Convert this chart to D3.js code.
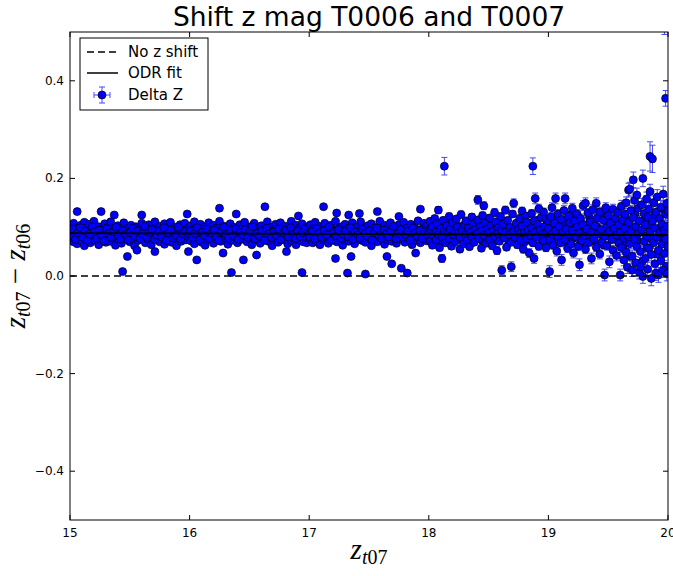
<!DOCTYPE html>
<html>
<head>
<meta charset="utf-8">
<script src="https://cdn.jsdelivr.net/npm/d3@7"></script>
<style>
  body { margin: 0; background: #fff; }
  svg { display: block; }
</style>
</head>
<body>
<div id="chart"></div>
<script>
// Delta Z points, [z_t07, z_t07 - z_t06] (errors hidden under the markers)
const bin15 = [[15.00,.089],[15.01,.078],[15.01,.101],[15.02,.093],[15.03,.070],[15.03,.108],[15.04,.085],[15.05,.097],[15.06,.066],[15.06,.132],[15.07,.090],[15.08,.079],[15.09,.104],[15.09,.072],[15.10,.094],[15.11,.083],[15.12,.110],[15.12,.062],[15.13,.088],[15.14,.099],[15.15,.075],[15.16,.091],[15.16,.106],[15.17,.068],[15.18,.084],[15.19,.096],[15.20,.080],[15.20,.112],[15.21,.073],[15.22,.092],[15.23,.087],[15.24,.101],[15.24,.064],[15.25,.082],[15.26,.132],[15.26,.095],[15.27,.076],[15.28,.090],[15.29,.107],[15.30,.069],[15.30,.086],[15.31,.099],[15.32,.078],[15.33,.093],[15.34,.111],[15.34,.071],[15.35,.085],[15.36,.097],[15.37,.125],[15.37,.081],[15.38,.063],[15.39,.092],[15.40,.103],[15.41,.074],[15.41,.088],[15.42,.095],[15.43,.067],[15.44,.009],[15.44,.083],[15.45,.109],[15.46,.091],[15.47,.077],[15.48,.040],[15.48,.098],[15.49,.086],[15.50,.070],[15.51,.104],[15.52,.089],[15.52,.079],[15.53,.094],[15.54,.062],[15.55,.101],[15.56,.053],[15.56,.084],[15.57,.073],[15.58,.096],[15.59,.087],[15.60,.125],[15.60,.108],[15.61,.080],[15.62,.093],[15.63,.068],[15.63,.099],[15.64,.086],[15.65,.075],[15.66,.105],[15.67,.090],[15.68,.081],[15.68,.064],[15.69,.097],[15.70,.088],[15.71,.050],[15.71,.111],[15.72,.076],[15.73,.092],[15.74,.083],[15.75,.102],[15.75,.070],[15.76,.089],[15.77,.095],[15.78,.078],[15.79,.107],[15.79,.065],[15.80,.086],[15.81,.098],[15.82,.073],[15.83,.091],[15.83,.084],[15.84,.110],[15.85,.069],[15.86,.094],[15.87,.080],[15.88,.100],[15.88,.087],[15.89,.062],[15.90,.093],[15.91,.077],[15.92,.105],[15.92,.089],[15.93,.071],[15.94,.096],[15.95,.082],[15.96,.108],[15.97,.074],[15.98,.127],[15.98,.090],[15.99,.050],[15.99,.099]];
const core15 = [[15.005,.084],[15.025,.096],[15.045,.075],[15.065,.088],[15.085,.099],[15.105,.080],[15.125,.092],[15.145,.073],[15.165,.086],[15.185,.101],[15.205,.090],[15.225,.077],[15.245,.094],[15.265,.083],[15.285,.072],[15.305,.097],[15.325,.087],[15.345,.079],[15.365,.091],[15.385,.100],[15.405,.082],[15.425,.076],[15.445,.093],[15.465,.085],[15.485,.074],[15.505,.089],[15.525,.098],[15.545,.081],[15.565,.092],[15.585,.077],[15.605,.086],[15.625,.102],[15.645,.079],[15.665,.090],[15.685,.095],[15.705,.075],[15.725,.084],[15.745,.092],[15.765,.080],[15.785,.099],[15.805,.073],[15.825,.088],[15.845,.094],[15.865,.078],[15.885,.083],[15.905,.100],[15.925,.076],[15.945,.087],[15.965,.091],[15.985,.081]];

const bin16 = [[16.00,.085],[16.01,.072],[16.01,.103],[16.02,.094],[16.03,.080],[16.04,.111],[16.04,.066],[16.05,.089],[16.06,.033],[16.06,.098],[16.07,.077],[16.08,.092],[16.09,.084],[16.09,.106],[16.10,.069],[16.11,.095],[16.12,.081],[16.13,.101],[16.13,.063],[16.14,.088],[16.15,.074],[16.16,.109],[16.16,.093],[16.17,.079],[16.18,.097],[16.19,.086],[16.20,.067],[16.20,.104],[16.21,.090],[16.22,.076],[16.23,.099],[16.24,.083],[16.25,.139],[16.25,.112],[16.26,.071],[16.27,.094],[16.28,.047],[16.28,.087],[16.29,.102],[16.30,.078],[16.31,.091],[16.32,.065],[16.32,.096],[16.33,.084],[16.34,.107],[16.35,.007],[16.35,.073],[16.36,.089],[16.37,.100],[16.38,.080],[16.39,.127],[16.39,.093],[16.40,.068],[16.41,.086],[16.42,.105],[16.43,.075],[16.44,.097],[16.45,.033],[16.45,.088],[16.46,.110],[16.47,.082],[16.48,.070],[16.49,.095],[16.50,.087],[16.51,.101],[16.52,.064],[16.52,.079],[16.53,.092],[16.54,.108],[16.55,.085],[16.56,.043],[16.56,.074],[16.57,.098],[16.58,.090],[16.59,.067],[16.60,.103],[16.61,.081],[16.62,.094],[16.63,.142],[16.63,.076],[16.64,.088],[16.65,.111],[16.66,.071],[16.67,.096],[16.68,.084],[16.68,.100],[16.69,.062],[16.70,.091],[16.71,.078],[16.72,.106],[16.73,.087],[16.74,.069],[16.75,.097],[16.76,.083],[16.76,.109],[16.77,.074],[16.78,.093],[16.79,.080],[16.80,.102],[16.81,.050],[16.81,.089],[16.82,.066],[16.83,.095],[16.84,.085],[16.85,.112],[16.85,.072],[16.86,.098],[16.87,.079],[16.88,.091],[16.89,.104],[16.89,.064],[16.90,.086],[16.91,.123],[16.91,.075],[16.92,.099],[16.93,.088],[16.94,.007],[16.94,.107],[16.95,.070],[16.96,.092],[16.97,.082],[16.98,.101],[16.98,.068],[16.99,.094]];
const core16 = [[16.005,.092],[16.025,.079],[16.045,.087],[16.065,.099],[16.085,.074],[16.105,.090],[16.125,.083],[16.145,.096],[16.165,.077],[16.185,.088],[16.205,.094],[16.225,.081],[16.245,.073],[16.265,.091],[16.285,.100],[16.305,.085],[16.325,.078],[16.345,.093],[16.365,.082],[16.385,.097],[16.405,.075],[16.425,.089],[16.445,.084],[16.465,.095],[16.485,.079],[16.505,.091],[16.525,.101],[16.545,.076],[16.565,.087],[16.585,.082],[16.605,.093],[16.625,.073],[16.645,.098],[16.665,.086],[16.685,.079],[16.705,.090],[16.725,.083],[16.745,.096],[16.765,.075],[16.785,.088],[16.805,.094],[16.825,.080],[16.845,.099],[16.865,.085],[16.885,.077],[16.905,.092],[16.925,.081],[16.945,.089],[16.965,.097],[16.985,.078]];

const bin17 = [[17.00,.087],[17.01,.076],[17.01,.105],[17.02,.093],[17.03,.068],[17.04,.099],[17.04,.083],[17.05,.110],[17.06,.072],[17.07,.090],[17.08,.081],[17.08,.102],[17.09,.064],[17.10,.095],[17.11,.086],[17.12,.142],[17.12,.074],[17.13,.108],[17.14,.091],[17.15,.079],[17.16,.097],[17.16,.067],[17.17,.088],[17.18,.104],[17.19,.077],[17.20,.093],[17.21,.084],[17.22,.036],[17.22,.112],[17.23,.129],[17.23,.070],[17.24,.096],[17.25,.089],[17.26,.080],[17.27,.101],[17.28,.063],[17.28,.092],[17.29,.075],[17.30,.106],[17.31,.086],[17.32,.006],[17.32,.098],[17.33,.125],[17.33,.071],[17.34,.090],[17.35,.040],[17.35,.082],[17.36,.109],[17.37,.094],[17.38,.066],[17.39,.087],[17.40,.100],[17.41,.078],[17.42,.128],[17.42,.092],[17.43,.111],[17.44,.073],[17.45,.085],[17.46,.097],[17.47,.004],[17.47,.069],[17.48,.089],[17.49,.103],[17.50,.080],[17.51,.094],[17.52,.062],[17.52,.107],[17.53,.086],[17.54,.076],[17.55,.099],[17.56,.091],[17.57,.132],[17.57,.070],[17.58,.084],[17.59,.112],[17.60,.095],[17.61,.079],[17.62,.088],[17.63,.065],[17.63,.104],[17.64,.093],[17.65,.040],[17.65,.074],[17.66,.100],[17.67,.085],[17.68,.109],[17.69,.025],[17.69,.071],[17.70,.092],[17.71,.081],[17.72,.097],[17.73,.067],[17.74,.088],[17.75,.122],[17.75,.105],[17.76,.077],[17.77,.016],[17.77,.094],[17.78,.084],[17.79,.110],[17.80,.069],[17.81,.091],[17.82,.006],[17.82,.099],[17.83,.078],[17.84,.087],[17.85,.106],[17.86,.064],[17.86,.093],[17.87,.082],[17.88,.101],[17.89,.047],[17.89,.073],[17.90,.090],[17.91,.113],[17.92,.085],[17.93,.137],[17.93,.068],[17.94,.096],[17.95,.080],[17.96,.108],[17.97,.089],[17.98,.072],[17.98,.102],[17.99,.094]];
const core17 = [[17.005,.080],[17.025,.091],[17.045,.076],[17.065,.097],[17.085,.088],[17.105,.079],[17.125,.093],[17.145,.084],[17.165,.100],[17.185,.073],[17.205,.089],[17.225,.082],[17.245,.095],[17.265,.077],[17.285,.086],[17.305,.092],[17.325,.080],[17.345,.099],[17.365,.075],[17.385,.090],[17.405,.084],[17.425,.078],[17.445,.096],[17.465,.087],[17.485,.081],[17.505,.093],[17.525,.074],[17.545,.089],[17.565,.098],[17.585,.083],[17.605,.077],[17.625,.094],[17.645,.086],[17.665,.080],[17.685,.091],[17.705,.102],[17.725,.076],[17.745,.087],[17.765,.095],[17.785,.079],[17.805,.085],[17.825,.092],[17.845,.074],[17.865,.098],[17.885,.088],[17.905,.081],[17.925,.094],[17.945,.077],[17.965,.090],[17.985,.084]];
const core18 = [[18.005,.091],[18.025,.077],[18.045,.099],[18.065,.084],[18.085,.106],[18.105,.070],[18.125,.088],[18.145,.097],[18.165,.080],[18.185,.110],[18.205,.075],[18.225,.093],[18.245,.086],[18.265,.102],[18.285,.072],[18.305,.090],[18.325,.081],[18.345,.107],[18.365,.095],[18.385,.078],[18.405,.099],[18.425,.087],[18.445,.073],[18.465,.094],[18.485,.104],[18.505,.082],[18.525,.090],[18.545,.071],[18.565,.097],[18.585,.111],[18.605,.079],[18.625,.088],[18.645,.101],[18.665,.074],[18.685,.093],[18.705,.083],[18.725,.098],[18.745,.108],[18.765,.077],[18.785,.091],[18.805,.070],[18.825,.087],[18.845,.103],[18.865,.080],[18.885,.095],[18.905,.114],[18.925,.084],[18.945,.076],[18.965,.092],[18.985,.105]];
const core19 = [[19.005,.112],[19.025,.093],[19.045,.078],[19.065,.121],[19.085,.099],[19.105,.084],[19.125,.070],[19.145,.106],[19.165,.091],[19.185,.126],[19.205,.077],[19.225,.098],[19.245,.113],[19.265,.065],[19.285,.089],[19.305,.104],[19.325,.081],[19.345,.119],[19.365,.094],[19.385,.072],[19.405,.101],[19.425,.087],[19.445,.125],[19.465,.063],[19.485,.092],[19.505,.108],[19.525,.079],[19.545,.116],[19.565,.097],[19.585,.071],[19.605,.104],[19.625,.063],[19.645,.117],[19.665,.085],[19.685,.040],[19.705,.099],[19.725,.128],[19.745,.073],[19.765,.093],[19.785,.030],[19.805,.114],[19.825,.058],[19.845,.102],[19.865,.076],[19.885,.123],[19.905,.045],[19.925,.097],[19.945,.081],[19.965,.137],[19.985,.020]];

// fainter end: [z_t07, delta z, error]
const bin18 = [[18.00,.086,.005],[18.01,.071,.005],[18.01,.112,.006],[18.02,.095,.005],[18.03,.063,.006],[18.03,.101,.005],[18.04,.082,.005],[18.05,.118,.006],[18.06,.090,.005],[18.06,.074,.005],[18.07,.107,.006],[18.08,.135,.007],[18.08,.085,.005],[18.09,.058,.006],[18.10,.097,.005],[18.11,.036,.008],[18.11,.079,.005],[18.12,.114,.006],[18.13,.225,.018],[18.13,.092,.005],[18.14,.068,.006],[18.15,.103,.005],[18.16,.087,.005],[18.17,.122,.007],[18.17,.075,.005],[18.18,.096,.005],[18.19,.061,.006],[18.20,.109,.006],[18.21,.083,.005],[18.22,.092,.005],[18.22,.070,.006],[18.23,.117,.006],[18.24,.100,.005],[18.25,.088,.005],[18.26,.055,.007],[18.26,.079,.005],[18.27,.126,.007],[18.28,.094,.005],[18.29,.066,.006],[18.30,.105,.006],[18.31,.085,.005],[18.31,.113,.006],[18.32,.073,.005],[18.33,.098,.005],[18.34,.060,.006],[18.35,.090,.005],[18.36,.121,.007],[18.36,.081,.005],[18.37,.107,.006],[18.38,.069,.006],[18.39,.095,.005],[18.40,.086,.005],[18.41,.156,.009],[18.41,.115,.006],[18.42,.077,.005],[18.43,.101,.006],[18.44,.057,.007],[18.44,.092,.005],[18.45,.124,.007],[18.46,.144,.008],[18.46,.083,.005],[18.47,.109,.006],[18.48,.067,.006],[18.49,.097,.005],[18.50,.088,.005],[18.51,.119,.007],[18.51,.074,.006],[18.52,.103,.006],[18.53,.062,.007],[18.54,.093,.005],[18.55,.130,.008],[18.55,.081,.005],[18.56,.111,.006],[18.57,.052,.008],[18.58,.099,.006],[18.58,.087,.005],[18.59,.071,.006],[18.60,.122,.007],[18.61,.012,.009],[18.61,.094,.005],[18.62,.106,.006],[18.63,.078,.006],[18.64,.135,.008],[18.64,.090,.005],[18.65,.059,.007],[18.66,.114,.006],[18.67,.084,.005],[18.68,.100,.006],[18.69,.019,.010],[18.69,.069,.006],[18.70,.127,.007],[18.71,.149,.009],[18.71,.092,.005],[18.72,.079,.006],[18.73,.108,.006],[18.74,.064,.007],[18.75,.096,.005],[18.76,.118,.007],[18.76,.086,.005],[18.77,.073,.006],[18.78,.133,.008],[18.78,.102,.006],[18.79,.055,.008],[18.80,.089,.005],[18.81,.123,.007],[18.82,.076,.006],[18.82,.110,.006],[18.83,.094,.005],[18.84,.047,.009],[18.85,.083,.006],[18.86,.128,.008],[18.86,.099,.006],[18.87,.225,.017],[18.87,.068,.007],[18.88,.036,.010],[18.88,.113,.007],[18.89,.159,.011],[18.89,.090,.006],[18.90,.079,.006],[18.91,.106,.006],[18.92,.138,.009],[18.92,.061,.008],[18.93,.095,.006],[18.94,.120,.007],[18.95,.085,.006],[18.96,.072,.007],[18.96,.131,.008],[18.97,.101,.006],[18.98,.058,.008],[18.98,.116,.007],[18.99,.088,.006]];

const bin19 = [[19.00,.097,.007],[19.01,.009,.012],[19.01,.074,.007],[19.02,.121,.008],[19.03,.086,.007],[19.03,.140,.010],[19.04,.063,.008],[19.05,.108,.008],[19.06,.159,.011],[19.06,.092,.007],[19.07,.051,.010],[19.08,.127,.009],[19.08,.080,.007],[19.09,.101,.008],[19.10,.068,.008],[19.11,.033,.011],[19.11,.116,.008],[19.12,.089,.007],[19.13,.134,.010],[19.14,.159,.011],[19.14,.075,.008],[19.15,.097,.007],[19.16,.057,.009],[19.17,.122,.009],[19.17,.085,.007],[19.18,.109,.008],[19.19,.066,.008],[19.20,.139,.010],[19.20,.093,.007],[19.21,.047,.010],[19.22,.113,.008],[19.23,.080,.007],[19.24,.127,.009],[19.24,.100,.008],[19.25,.061,.009],[19.26,.023,.012],[19.26,.088,.007],[19.27,.118,.009],[19.28,.072,.008],[19.29,.144,.010],[19.29,.105,.008],[19.30,.083,.007],[19.31,.149,.011],[19.31,.055,.009],[19.32,.096,.008],[19.33,.129,.009],[19.34,.069,.008],[19.35,.111,.008],[19.36,.036,.011],[19.36,.090,.007],[19.37,.136,.010],[19.38,.077,.008],[19.39,.103,.008],[19.40,.149,.011],[19.40,.059,.009],[19.41,.119,.009],[19.42,.086,.007],[19.43,.045,.010],[19.43,.131,.010],[19.44,.095,.008],[19.45,.070,.008],[19.46,.114,.009],[19.47,.002,.012],[19.47,.082,.008],[19.48,.140,.010],[19.49,.100,.008],[19.49,.062,.009],[19.50,.124,.009],[19.51,.029,.012],[19.51,.091,.008],[19.52,.108,.008],[19.53,.075,.008],[19.54,.137,.010],[19.54,.053,.010],[19.55,.097,.008],[19.56,.119,.009],[19.57,.084,.008],[19.57,.042,.011],[19.58,.130,.010],[19.59,.067,.009],[19.59,.105,.008]];

const bin196 = [[19.60,.002,.012],[19.60,.089,.009],[19.61,.143,.012],[19.61,.058,.010],[19.62,.115,.010],[19.63,.033,.012],[19.63,.078,.009],[19.64,.127,.011],[19.64,.097,.009],[19.65,.049,.011],[19.65,.150,.012],[19.66,.083,.009],[19.66,.018,.013],[19.67,.176,.014],[19.67,.110,.010],[19.68,.178,.014],[19.68,.066,.010],[19.69,.134,.011],[19.69,.092,.009],[19.70,.012,.013],[19.70,.041,.012],[19.71,.197,.016],[19.71,.120,.011],[19.72,.075,.010],[19.72,.155,.013],[19.73,.101,.010],[19.73,.027,.013],[19.74,.166,.014],[19.74,.060,.011],[19.75,.139,.012],[19.75,.087,.010],[19.76,.008,.014],[19.76,.113,.011],[19.77,.019,.013],[19.77,.050,.012],[19.78,.146,.013],[19.78,.095,.010],[19.79,.200,.017],[19.79,-.001,.014],[19.80,.071,.011],[19.80,.128,.012],[19.81,.036,.013],[19.81,.105,.011],[19.82,.158,.014],[19.82,.082,.010],[19.83,.014,.014],[19.83,.121,.012],[19.84,.057,.012],[19.84,.137,.013],[19.85,.245,.030],[19.85,.173,.015],[19.85,.091,.011],[19.86,-.005,.015],[19.86,.044,.013],[19.87,.240,.028],[19.87,.112,.012],[19.88,.068,.012],[19.88,.150,.014],[19.89,.025,.014],[19.89,.098,.011],[19.90,.131,.013],[19.90,.006,.015],[19.91,.079,.012],[19.91,.162,.015],[19.92,.002,.015],[19.92,.053,.013],[19.93,.118,.013],[19.93,.088,.012],[19.94,.141,.014],[19.94,.031,.014],[19.95,.106,.013],[19.95,.065,.013],[19.96,.168,.016],[19.96,.012,.015],[19.97,.530,.035],[19.97,.094,.013],[19.97,.046,.014],[19.98,.364,.016],[19.98,.127,.014],[19.98,.075,.013],[19.99,.005,.015],[19.99,.149,.015],[19.99,.102,.013],[20.00,.060,.014],[20.00,.133,.015]];

// ODR fit end points and the zero line
const fitX = [15, 20];
const fitY = [0.088, 0.084];
const zeroY = [0, 0];

const xTicks = [15, 16, 17, 18, 19, 20];
const yTicks = [-0.4, -0.2, 0.0, 0.2, 0.4];

const width = 673, height = 576;
const m = { left: 70, right: 668, top: 32, bottom: 520 };

const points = bin15.concat(core15, bin16, core16, bin17, core17, core18, bin18, core19, bin19, bin196)
    .map(d => ({ x: d[0], y: d[1], e: d.length > 2 ? d[2] : 0 }));

const svg = d3.select("#chart").append("svg")
    .attr("width", width)
    .attr("height", height);

const x = d3.scaleLinear().domain([15, 20]).range([m.left, m.right]);
const y = d3.scaleLinear().domain([-0.5, 0.5]).range([m.bottom, m.top]);

svg.append("defs").append("clipPath").attr("id", "plot-clip")
    .append("rect")
    .attr("x", m.left).attr("y", m.top)
    .attr("width", m.right - m.left).attr("height", m.bottom - m.top);

const plot = svg.append("g").attr("clip-path", "url(#plot-clip)");

// error bars
const errColor = "#4646ff";
const withErr = points.filter(d => d.e > 0);
plot.append("g").selectAll("path").data(withErr).join("path")
    .attr("d", d => {
        const cx = x(d.x), y0 = y(d.y - d.e), y1 = y(d.y + d.e);
        return `M${cx},${y0}V${y1}M${cx - 3},${y0}H${cx + 3}M${cx - 3},${y1}H${cx + 3}`;
    })
    .attr("stroke", errColor)
    .attr("stroke-width", 1)
    .attr("fill", "none");

// markers
const dotFill = "#0000ff";
plot.append("g").selectAll("circle").data(points).join("circle")
    .attr("cx", d => x(d.x))
    .attr("cy", d => y(d.y))
    .attr("r", 4)
    .attr("fill", dotFill)
    .attr("stroke", "#000")
    .attr("stroke-width", 0.7);

// no shift line
const line = d3.line().x(d => x(d[0])).y(d => y(d[1]));
plot.append("path")
    .datum(fitX.map((v, i) => [v, zeroY[i]]))
    .attr("d", line)
    .attr("stroke", "#000")
    .attr("stroke-width", 1.5)
    .attr("stroke-dasharray", "7,4")
    .attr("fill", "none");

// ODR fit
plot.append("path")
    .datum(fitX.map((v, i) => [v, fitY[i]]))
    .attr("d", line)
    .attr("stroke", "#000")
    .attr("stroke-width", 1.8)
    .attr("fill", "none");

// frame
svg.append("rect")
    .attr("x", m.left).attr("y", m.top)
    .attr("width", m.right - m.left).attr("height", m.bottom - m.top)
    .attr("fill", "none")
    .attr("stroke", "#000")
    .attr("stroke-width", 1);

// ticks pointing inward on all four sides
const tickLen = 5;
const ticks = svg.append("g").attr("stroke", "#000").attr("stroke-width", 1);
xTicks.forEach(t => {
    ticks.append("line").attr("x1", x(t)).attr("x2", x(t)).attr("y1", m.bottom).attr("y2", m.bottom - tickLen);
    ticks.append("line").attr("x1", x(t)).attr("x2", x(t)).attr("y1", m.top).attr("y2", m.top + tickLen);
});
yTicks.forEach(t => {
    ticks.append("line").attr("x1", m.left).attr("x2", m.left + tickLen).attr("y1", y(t)).attr("y2", y(t));
    ticks.append("line").attr("x1", m.right).attr("x2", m.right - tickLen).attr("y1", y(t)).attr("y2", y(t));
});

const font = "'DejaVu Sans', sans-serif";
svg.append("g").selectAll("text").data(xTicks).join("text")
    .attr("x", d => x(d))
    .attr("y", m.bottom + 17)
    .attr("text-anchor", "middle")
    .attr("font-family", font)
    .attr("font-size", 12)
    .text(d => d);

svg.append("g").selectAll("text").data(yTicks).join("text")
    .attr("x", m.left - 6)
    .attr("y", d => y(d) + 4)
    .attr("text-anchor", "end")
    .attr("font-family", font)
    .attr("font-size", 12)
    .text(d => d3.format(".1f")(d).replace("-", "\u2212"));

// title
svg.append("text")
    .attr("x", (m.left + m.right) / 2)
    .attr("y", 26)
    .attr("text-anchor", "middle")
    .attr("font-family", font)
    .attr("font-size", 26.5)
    .text("Shift z mag T0006 and T0007");

// axis labels in math style
const serif = "'Liberation Serif', 'DejaVu Serif', serif";
function mathLabel(g, parts) {
    const t = g.append("text").attr("font-family", serif).attr("text-anchor", "middle");
    parts.forEach(p => {
        t.append("tspan")
            .attr("font-size", p.sub ? 20 : 29)
            .attr("font-style", p.it ? "italic" : "normal")
            .attr("dy", p.dy || 0)
            .text(p.s);
    });
    return t;
}
mathLabel(svg.append("g").attr("transform", `translate(${(m.left + m.right) / 2},559)`), [
    { s: "z", it: true },
    { s: "t", it: true, sub: true, dy: 5 },
    { s: "07", sub: true }
]);
mathLabel(svg.append("g").attr("transform", `translate(25,${y(0)}) rotate(-90)`), [
    { s: "z", it: true },
    { s: "t", it: true, sub: true, dy: 5 },
    { s: "07", sub: true },
    { s: " \u2212 ", dy: -5 },
    { s: "z", it: true },
    { s: "t", it: true, sub: true, dy: 5 },
    { s: "06", sub: true }
]);

// legend
const lg = svg.append("g");
lg.append("rect")
    .attr("x", 80).attr("y", 38).attr("width", 128).attr("height", 72)
    .attr("fill", "#fff").attr("stroke", "#000").attr("stroke-width", 1);
const legendItems = ["No z shift", "ODR fit", "Delta Z"];
const rowY = [52, 73, 95];
lg.append("line").attr("x1", 87).attr("x2", 118).attr("y1", rowY[0]).attr("y2", rowY[0])
    .attr("stroke", "#000").attr("stroke-width", 1.5).attr("stroke-dasharray", "7,4");
lg.append("line").attr("x1", 87).attr("x2", 118).attr("y1", rowY[1]).attr("y2", rowY[1])
    .attr("stroke", "#000").attr("stroke-width", 1.5);
lg.append("path")
    .attr("d", `M94,${rowY[2]}H110M94,${rowY[2] - 3}V${rowY[2] + 3}M110,${rowY[2] - 3}V${rowY[2] + 3}` +
               `M102,${rowY[2] - 8}V${rowY[2] + 8}M99,${rowY[2] - 8}H105M99,${rowY[2] + 8}H105`)
    .attr("stroke", errColor).attr("stroke-width", 1).attr("fill", "none");
lg.append("circle").attr("cx", 102).attr("cy", rowY[2]).attr("r", 4)
    .attr("fill", dotFill).attr("stroke", "#000").attr("stroke-width", 0.7);
lg.selectAll("text.item").data(legendItems).join("text")
    .attr("class", "item")
    .attr("x", 128)
    .attr("y", (d, i) => rowY[i] + 5)
    .attr("font-family", font)
    .attr("font-size", 15)
    .text(d => d);
</script>
</body>
</html>
